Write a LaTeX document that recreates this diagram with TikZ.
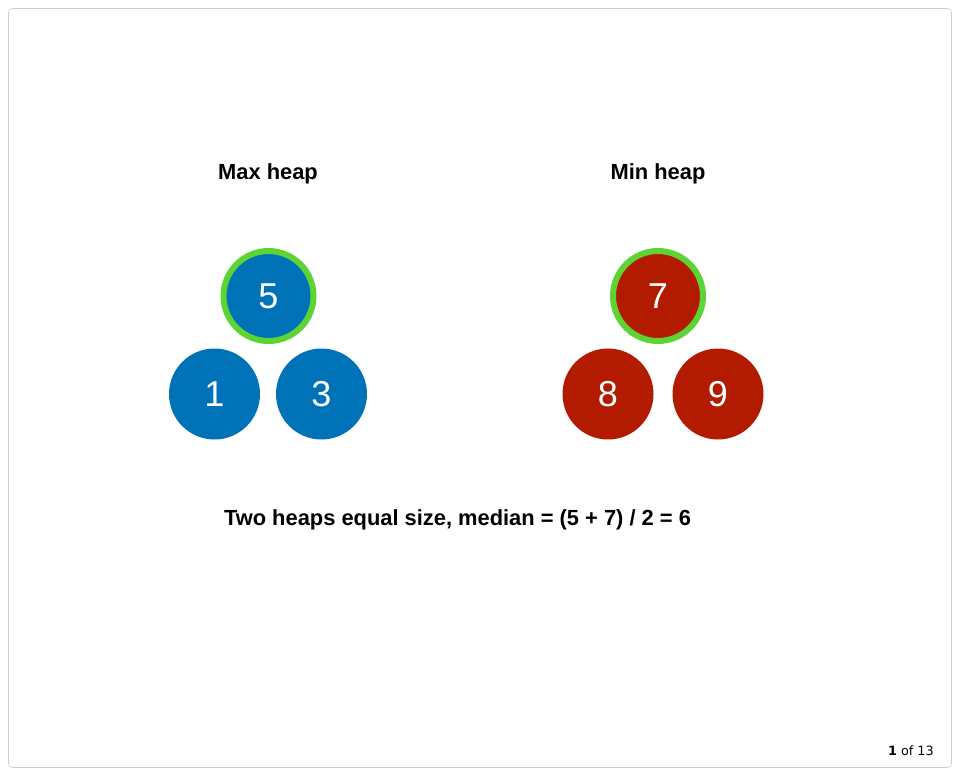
\documentclass[tikz,border=0pt]{standalone}
\usepackage{fontspec}
\setmainfont{Liberation Sans}
\newfontfamily\pagerfont{DejaVu Sans}
\definecolor{maxblue}{RGB}{0,114,184}
\definecolor{minred}{RGB}{178,27,0}
\definecolor{rootgreen}{RGB}{94,212,52}
\definecolor{framegray}{RGB}{206,206,206}

\begin{document}
\begin{tikzpicture}[x=0.75pt, y=-0.75pt,
  heading/.style={anchor=base, font=\bfseries\fontsize{16.4}{20}\selectfont},
  heapnode/.style={circle, inner sep=0pt, minimum size=68.25pt, text=white,
    font=\fontsize{27}{30}\selectfont},
  rootnode/.style={heapnode, draw=rootgreen, line width=4.5pt, minimum size=67.5pt}]
\useasboundingbox (0,0) rectangle (957,772);
% slide frame
\draw[framegray, rounded corners=3pt] (8.5,8.5) rectangle (951.5,767.5);
% max heap (left)
\node[heading] (maxlabel) at (268,179) {Max heap};
\node[rootnode, fill=maxblue] (maxroot) at (268.5,296) {5};
\node[heapnode, fill=maxblue] (maxleft) at (214.5,394) {1};
\node[heapnode, fill=maxblue] (maxright) at (321.5,394) {3};
% min heap (right)
\node[heading] (minlabel) at (658,179) {Min heap};
\node[rootnode, fill=minred] (minroot) at (658,296) {7};
\node[heapnode, fill=minred] (minleft) at (608,394) {8};
\node[heapnode, fill=minred] (minright) at (718,394) {9};
% caption and page counter
\node[heading] (caption) at (457.5,525) {Two heaps equal size, median = (5 + 7) / 2 = 6};
\node[anchor=base east, inner sep=0pt, font=\pagerfont\fontsize{9.6}{12}\selectfont] (pager) at (934,755) {\textbf{1} of 13};
\end{tikzpicture}
\end{document}
